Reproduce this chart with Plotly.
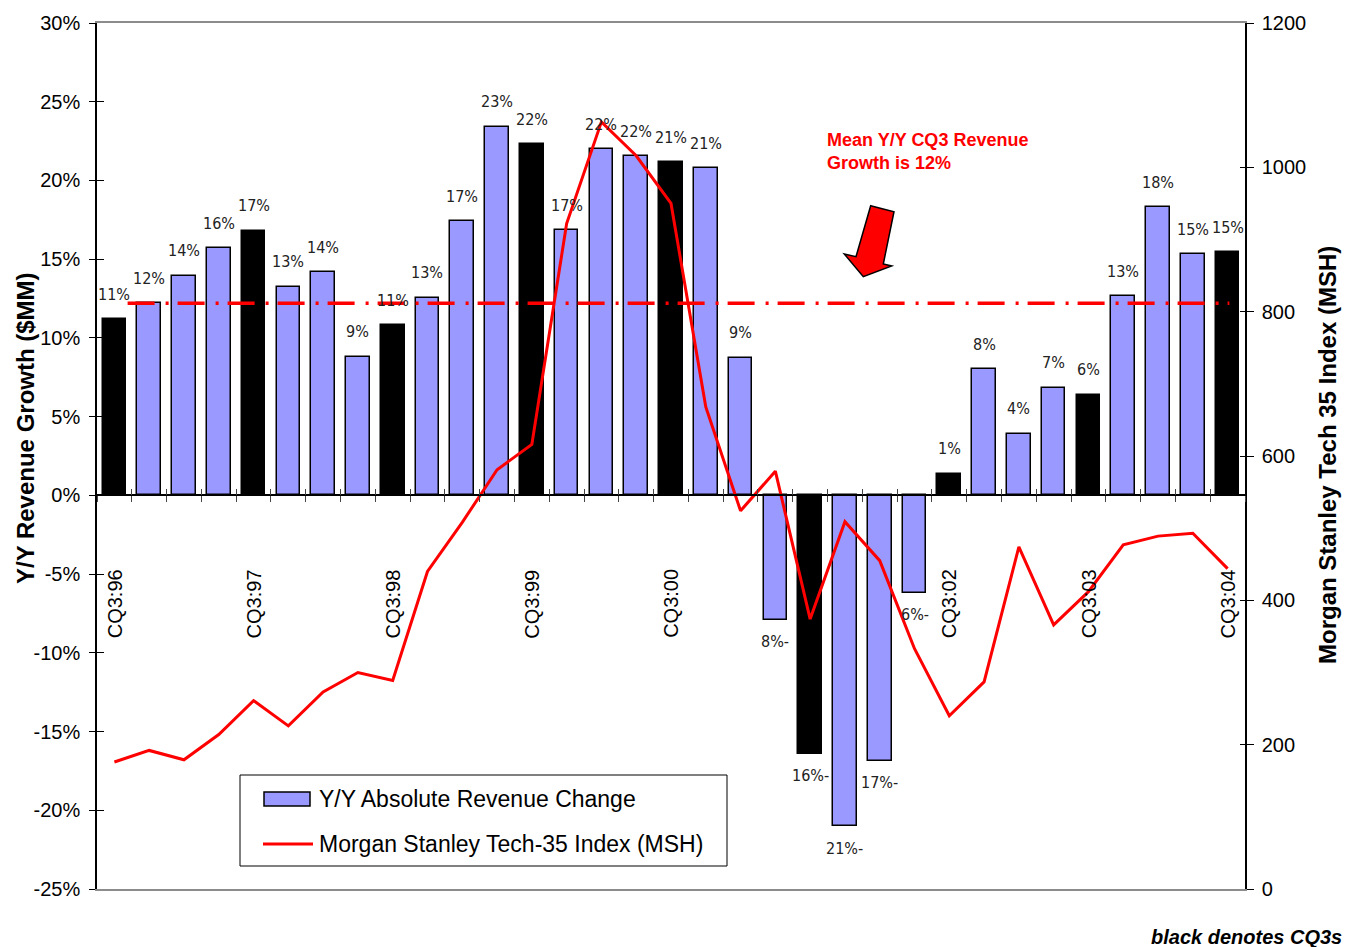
import plotly.graph_objects as go

# ---------------- data ----------------
quarters = ["CQ3:96", "CQ4:96", "CQ1:97", "CQ2:97", "CQ3:97", "CQ4:97", "CQ1:98", "CQ2:98",
            "CQ3:98", "CQ4:98", "CQ1:99", "CQ2:99", "CQ3:99", "CQ4:99", "CQ1:00", "CQ2:00",
            "CQ3:00", "CQ4:00", "CQ1:01", "CQ2:01", "CQ3:01", "CQ4:01", "CQ1:02", "CQ2:02",
            "CQ3:02", "CQ4:02", "CQ1:03", "CQ2:03", "CQ3:03", "CQ4:03", "CQ1:04", "CQ2:04",
            "CQ3:04"]
revenue_growth = [11.2, 12.2, 13.96, 15.7, 16.8, 13.26, 14.16, 8.8, 10.8, 12.55, 17.4, 23.4,
                  22.3, 16.85, 21.97, 21.55, 21.17, 20.77, 8.74, -7.9, -16.4, -21.0, -16.85, -6.2,
                  1.36, 8.0, 3.9, 6.85, 6.4, 12.65, 18.3, 15.3, 15.43]
msh_index = [176, 192, 179, 214, 261, 226, 273, 300, 289, 440, 508, 581, 616, 922, 1063, 1016,
             950, 668, 524, 579, 374, 509, 455, 333, 240, 287, 474, 366, 412, 477, 489, 493, 444]
mean_cq3_growth = 12.2
hidden_tick_labels = ["CQ3:01"]   # hidden behind its bar in the original

left_ticks = [-25, -20, -15, -10, -5, 0, 5, 10, 15, 20, 25, 30]
right_ticks = [0, 200, 400, 600, 800, 1000, 1200]

# ---------------- styling ----------------
BLUE = "#9999FF"
RED = "#FF0000"
FONT = "Liberation Sans, Arial, sans-serif"
NARROW = "Liberation Sans Narrow, Arial Narrow, DejaVu Sans Condensed, sans-serif"

W, H = 1345, 947
PL, PR, PT, PB = 97, 1245, 23, 889


def px(x):
    return (x - PL) / (PR - PL)


def py(y):
    return (PB - y) / (PB - PT)


n = len(quarters)
xs = list(range(n))
colors = ["black" if q.startswith("CQ3") else BLUE for q in quarters]

fig = go.Figure()

fig.add_trace(go.Bar(
    x=xs, y=revenue_growth, width=0.68,
    marker=dict(color=colors, line=dict(color="black", width=1.5)),
    showlegend=False, hoverinfo="skip"))

fig.add_trace(go.Scatter(
    x=xs, y=msh_index, yaxis="y2", mode="lines",
    line=dict(color=RED, width=3), showlegend=False, hoverinfo="skip"))

fig.add_trace(go.Scatter(
    x=[0.38, n - 1 + 0.05], y=[mean_cq3_growth, mean_cq3_growth], mode="lines",
    line=dict(color=RED, width=3.5, dash="27px,11px,3px,9px"),
    showlegend=False, hoverinfo="skip"))

# dummy traces to make overlay axes render
for xa, ya in [("x2", "y"), ("x3", "y"), ("x", "y3"), ("x", "y4")]:
    fig.add_trace(go.Scatter(x=[None], y=[None], xaxis=xa, yaxis=ya, showlegend=False,
                             hoverinfo="skip"))

annotations = []
# value labels
for i, v in enumerate(revenue_growth):
    txt = f"{int(abs(v) + 0.5)}%" + ("-" if v < 0 else "")
    annotations.append(dict(x=i, y=v, xref="x", yref="y", text=txt, showarrow=False,
                            xanchor="center", yanchor="middle", yshift=25 if v >= 0 else -22,
                            font=dict(family=NARROW, size=16, color="#222")))
# category labels (CQ3s only)
for i, q in enumerate(quarters):
    if q.startswith("CQ3") and q not in hidden_tick_labels:
        annotations.append(dict(x=i, y=0, xref="x", yref="y", text=q, showarrow=False,
                                textangle=-90, xanchor="center", yanchor="top", yshift=-72,
                                font=dict(family=FONT, size=20, color="black")))
# axis titles
annotations.append(dict(x=px(25), y=py(428), xref="paper", yref="paper",
                        xanchor="center", yanchor="middle",
                        text="<b>Y/Y Revenue Growth ($MM)</b>", showarrow=False, textangle=-90,
                        font=dict(family=FONT, size=24, color="black")))
annotations.append(dict(x=px(1328), y=py(455), xref="paper", yref="paper",
                        xanchor="center", yanchor="middle",
                        text="<b>Morgan Stanley Tech 35 Index (MSH)</b>", showarrow=False,
                        textangle=-90, font=dict(family=FONT, size=24, color="black")))
# mean annotation
annotations.append(dict(x=px(825), y=py(128), xref="paper", yref="paper",
                        xanchor="left", yanchor="top", align="left",
                        text="<b>Mean Y/Y CQ3 Revenue<br>Growth is 12%</b>", showarrow=False,
                        font=dict(family=FONT, size=18, color=RED)))
# footnote
annotations.append(dict(x=px(1149), y=py(937), xref="paper", yref="paper",
                        xanchor="left", yanchor="middle",
                        text="<b><i>black denotes CQ3s</i></b>", showarrow=False,
                        font=dict(family=FONT, size=20, color="black")))
# manual legend texts
annotations.append(dict(x=px(317), y=py(799), xref="paper", yref="paper", xanchor="left",
                        yanchor="middle", text="Y/Y Absolute Revenue Change", showarrow=False,
                        font=dict(family=FONT, size=23, color="black")))
annotations.append(dict(x=px(317), y=py(843.5), xref="paper", yref="paper", xanchor="left",
                        yanchor="middle", text="Morgan Stanley Tech-35 Index (MSH)",
                        showarrow=False, font=dict(family=FONT, size=23, color="black")))

# arrow polygon (pixel outline -> paper)
arrow_px = [(870.7, 205.7), (894, 211.7), (883.3, 264), (891.7, 266), (863.3, 276.7),
            (844.3, 254), (856, 256.7)]
path = "M " + " L ".join(f"{px(a):.5f},{py(b):.5f}" for a, b in arrow_px) + " Z"

shapes = [
    dict(type="path", xref="paper", yref="paper", path=path, fillcolor=RED,
         line=dict(color="black", width=1.5)),
    dict(type="rect", xref="paper", yref="paper", x0=px(240), x1=px(727), y0=py(866), y1=py(775),
         fillcolor="white", line=dict(color="black", width=1)),
    dict(type="rect", xref="paper", yref="paper", x0=px(264), x1=px(310), y0=py(806), y1=py(792),
         fillcolor=BLUE, line=dict(color="black", width=1.5)),
    dict(type="line", xref="paper", yref="paper", x0=px(263), x1=px(313), y0=py(844), y1=py(844),
         line=dict(color=RED, width=3)),
]

boundaries = [i - 0.5 for i in range(n + 1)]
xrange_ = [-0.5, n - 0.5]
zero_pos = (0 - left_ticks[0]) / (left_ticks[-1] - left_ticks[0])

fig.update_layout(
    width=W, height=H,
    margin=dict(l=PL, r=W - PR, t=PT, b=H - PB, pad=0),
    paper_bgcolor="white", plot_bgcolor="white",
    bargap=0, showlegend=False,
    font=dict(family=FONT, size=20, color="black"),
    xaxis=dict(range=xrange_, showgrid=False, zeroline=False, showticklabels=False,
               showline=True, linecolor="#8c8c8c", linewidth=1.5, mirror=True, ticks=""),
    xaxis2=dict(overlaying="x", anchor="free", position=zero_pos, range=xrange_,
                tickvals=boundaries, ticks="outside", ticklen=6, tickcolor="#444",
                showticklabels=False, showgrid=False, zeroline=False,
                showline=True, linecolor="black", linewidth=1.5),
    xaxis3=dict(overlaying="x", anchor="free", position=zero_pos, range=xrange_,
                tickvals=boundaries, ticks="inside", ticklen=6, tickcolor="#444",
                showticklabels=False, showgrid=False, zeroline=False, showline=False),
    yaxis=dict(range=[left_ticks[0], left_ticks[-1]], tickvals=left_ticks,
               ticktext=[f"{t}%" for t in left_ticks], ticks="outside", ticklen=6,
               tickcolor="black", showline=True, linecolor="black", linewidth=1.5,
               showgrid=False, zeroline=False, ticklabelstandoff=5,
               tickfont=dict(size=20)),
    yaxis3=dict(overlaying="y", anchor="x", side="left", range=[left_ticks[0], left_ticks[-1]],
                tickvals=left_ticks, ticks="inside", ticklen=7, tickcolor="black",
                showticklabels=False, showgrid=False, zeroline=False, showline=False),
    yaxis2=dict(overlaying="y", anchor="x", side="right", range=[right_ticks[0], right_ticks[-1]],
                tickvals=right_ticks, ticks="outside", ticklen=7, tickcolor="black",
                showline=True, linecolor="black", linewidth=1.5, showgrid=False,
                zeroline=False, ticklabelstandoff=4, tickfont=dict(size=20)),
    yaxis4=dict(overlaying="y", anchor="x", side="right", range=[right_ticks[0], right_ticks[-1]],
                tickvals=right_ticks, ticks="inside", ticklen=5, tickcolor="black",
                showticklabels=False, showgrid=False, zeroline=False, showline=False),
    annotations=annotations,
    shapes=shapes,
)

fig.write_html("out.html")
